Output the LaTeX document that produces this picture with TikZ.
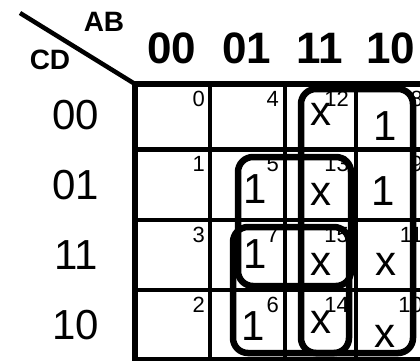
\documentclass[tikz,border=0pt]{standalone}
\usepackage{fontspec}
\setmainfont{Liberation Sans}
\usetikzlibrary{positioning}

\begin{document}
\begin{tikzpicture}[
  x=1pt, y=-1pt,
  gline/.style={line width=4.5pt},
  border/.style={line width=5.5pt},
  grp/.style={line width=6.5pt, rounded corners=15pt},
  var/.style={font=\fontsize{28}{28}\selectfont\bfseries, inner sep=0pt},
  colhead/.style={font=\fontsize{44}{44}\selectfont\bfseries, anchor=base, inner sep=0pt},
  rowhead/.style={font=\fontsize{42}{42}\selectfont, anchor=base, inner sep=0pt},
  entry/.style={font=\fontsize{42}{42}\selectfont, anchor=base, inner sep=0pt},
  idx/.style={font=\fontsize{22}{22}\selectfont, anchor=north east, inner sep=0pt}
]
\useasboundingbox (0,0) rectangle (420,360);
\clip (0,0) rectangle (420,360);

% corner with variable names
\coordinate (corner) at (135,84);
\coordinate (tail) at (20,13);
\draw[line width=4.5pt] (tail) -- (corner);
\node[var] (ab) at (104,22) {AB};
\node[var] (cd) at (50,60) {CD};

% column and row headings
\node[colhead] (c00) at (172,63) {00};
\node[colhead] (c01) at (247,63) {01};
\node[colhead] (c11) at (320,63) {11};
\node[colhead] (c10) at (391,63) {10};
\node[rowhead] (r00) at (76,129) {00};
\node[rowhead] (r01) at (76,199) {01};
\node[rowhead] (r11) at (76,269) {11};
\node[rowhead] (r10) at (76,339) {10};

% map grid
\foreach \x in {210,285,356} \draw[gline] (\x,84) -- (\x,359);
\foreach \y in {149.5,220,290,359} \draw[gline] (135,\y) -- (430,\y);
\draw[border] (corner) -- (430,84);
\draw[border] (corner) -- (135,362);

% minterm numbers
\foreach \x/\y/\n in {205/91/0, 205/156/1, 205/227/3, 205/297/2,
                      279/91/4, 279/156/5, 279/227/7, 279/297/6,
                      349/91/12, 349/156/13, 349/227/15, 349/297/14,
                      423/91/8, 423/156/9, 423/227/11, 423/297/10}
  \node[idx] (m\n) at (\x,\y) {\n};

% cell values
\node[entry] (e12) at (321,125) {x};
\node[entry] (e8) at (385,140) {1};
\node[entry] (e5) at (255,203) {1};
\node[entry] (e13) at (321,205) {x};
\node[entry] (e9) at (383,205) {1};
\node[entry] (e7) at (255,268) {1};
\node[entry] (e15) at (321,275) {x};
\node[entry] (e11) at (386,275) {x};
\node[entry] (e6) at (253,340) {1};
\node[entry] (e14) at (321,333) {x};
\node[entry] (e10) at (385,347) {x};

% groups
\draw[grp] (301,89) rectangle (413,353);
\draw[grp] (238,157) rectangle (351,286);
\draw[grp] (233,227) rectangle (349,353);
\end{tikzpicture}
\end{document}
